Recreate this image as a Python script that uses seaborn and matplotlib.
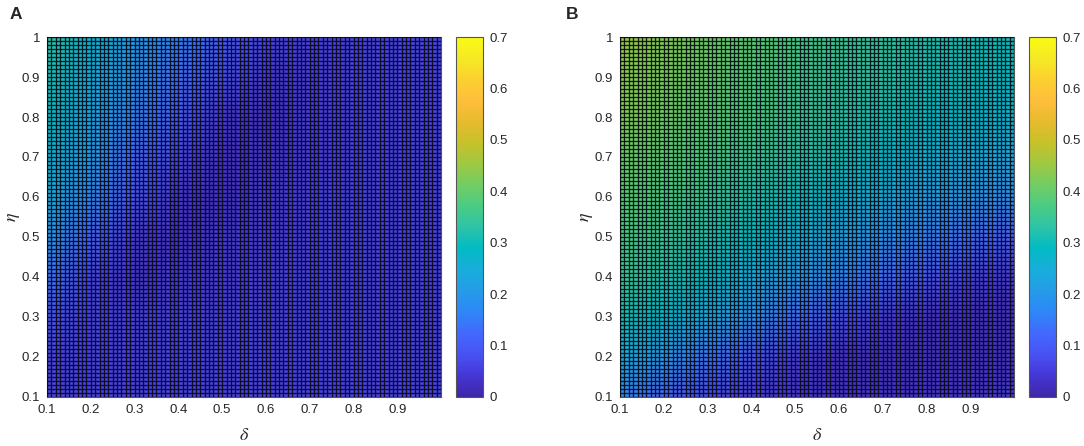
import numpy as np
import matplotlib
matplotlib.use('Agg')
import matplotlib.pyplot as plt
import matplotlib.ticker as ticker
import seaborn as sns

# grid of the two parameters
delta = [0.1, 0.2, 0.3, 0.4, 0.5, 0.6, 0.7, 0.8, 0.9, 1.0]
eta = [0.1, 0.2, 0.3, 0.4, 0.5, 0.6, 0.7, 0.8, 0.9, 1.0]

# panel A, rows go from eta=0.1 (bottom) to eta=1.0 (top)
values_a = [
    [0.06, 0.06, 0.06, 0.06, 0.06, 0.06, 0.06, 0.06, 0.06, 0.06],
    [0.065, 0.06, 0.06, 0.06, 0.06, 0.06, 0.06, 0.06, 0.06, 0.06],
    [0.085, 0.06, 0.055, 0.055, 0.055, 0.055, 0.055, 0.055, 0.055, 0.055],
    [0.14, 0.065, 0.04, 0.045, 0.05, 0.055, 0.055, 0.055, 0.055, 0.055],
    [0.20, 0.11, 0.05, 0.035, 0.045, 0.05, 0.055, 0.055, 0.055, 0.055],
    [0.25, 0.17, 0.085, 0.04, 0.035, 0.045, 0.055, 0.055, 0.055, 0.055],
    [0.27, 0.21, 0.12, 0.065, 0.035, 0.04, 0.05, 0.055, 0.055, 0.055],
    [0.29, 0.23, 0.16, 0.095, 0.045, 0.035, 0.05, 0.055, 0.06, 0.06],
    [0.31, 0.25, 0.19, 0.13, 0.075, 0.045, 0.05, 0.06, 0.06, 0.06],
    [0.33, 0.27, 0.21, 0.16, 0.10, 0.065, 0.055, 0.06, 0.065, 0.065],
]

# panel B, same layout
values_b = [
    [0.17, 0.11, 0.07, 0.05, 0.04, 0.035, 0.035, 0.04, 0.04, 0.045],
    [0.25, 0.20, 0.14, 0.09, 0.05, 0.035, 0.03, 0.03, 0.03, 0.035],
    [0.31, 0.28, 0.24, 0.19, 0.13, 0.08, 0.05, 0.035, 0.03, 0.03],
    [0.35, 0.32, 0.29, 0.25, 0.21, 0.17, 0.13, 0.09, 0.06, 0.045],
    [0.37, 0.35, 0.32, 0.29, 0.26, 0.23, 0.19, 0.16, 0.13, 0.10],
    [0.39, 0.37, 0.35, 0.32, 0.30, 0.27, 0.25, 0.22, 0.20, 0.18],
    [0.41, 0.39, 0.37, 0.35, 0.33, 0.31, 0.28, 0.26, 0.25, 0.24],
    [0.43, 0.41, 0.39, 0.37, 0.35, 0.33, 0.31, 0.29, 0.28, 0.27],
    [0.44, 0.42, 0.40, 0.38, 0.36, 0.34, 0.33, 0.31, 0.30, 0.29],
    [0.45, 0.43, 0.41, 0.39, 0.37, 0.35, 0.34, 0.32, 0.31, 0.30],
]

panel_labels = ['A', 'B']
cbar_ticks = [0, 0.1, 0.2, 0.3, 0.4, 0.5, 0.6, 0.7]
x_ticks = [0.1, 0.2, 0.3, 0.4, 0.5, 0.6, 0.7, 0.8, 0.9]
y_ticks = [0.1, 0.2, 0.3, 0.4, 0.5, 0.6, 0.7, 0.8, 0.9, 1.0]

# parula-like colours
parula = [
    (0.2422, 0.1504, 0.6603), (0.2706, 0.2147, 0.8364), (0.2810, 0.3228, 0.9579),
    (0.2602, 0.4123, 0.9952), (0.1786, 0.5289, 0.9682), (0.1460, 0.6091, 0.9079),
    (0.0952, 0.6798, 0.8598), (0.0067, 0.7312, 0.7660), (0.1717, 0.7670, 0.6554),
    (0.2906, 0.7973, 0.5188), (0.4456, 0.8024, 0.3909), (0.6174, 0.7876, 0.2612),
    (0.7738, 0.7598, 0.1646), (0.9035, 0.7330, 0.1774), (0.9956, 0.7434, 0.2371),
    (0.9892, 0.8136, 0.1885), (0.9597, 0.9135, 0.1423), (0.9769, 0.9839, 0.0805),
]

sns.set_style('white')
plt.rcParams['font.family'] = ['Liberation Sans', 'DejaVu Sans']
plt.rcParams['mathtext.fontset'] = 'stix'
cmap = sns.blend_palette(parula, n_colors=256, as_cmap=True)

fig = plt.figure(figsize=(10.84, 4.46), dpi=100)
ax_pos = [[0.0434, 0.110, 0.3635, 0.807], [0.572, 0.110, 0.3635, 0.807]]
cb_pos = [[0.4207, 0.110, 0.0249, 0.807], [0.9493, 0.110, 0.0249, 0.807]]
letter_x = [0.009, 0.522]
fmt = ticker.FuncFormatter(lambda v, p: '%g' % round(v, 2))

for i, vals in enumerate([values_a, values_b]):
    ax = fig.add_axes(ax_pos[i])
    X, Y = np.meshgrid(delta, eta)
    mesh = ax.pcolormesh(X, Y, np.array(vals), cmap=cmap, vmin=0, vmax=0.7,
                         shading='gouraud', rasterized=True)
    ax.set_xlim(0.1, 1.0)
    ax.set_ylim(0.1, 1.0)
    ax.set_xticks(x_ticks)
    ax.set_yticks(y_ticks)
    ax.xaxis.set_major_formatter(fmt)
    ax.yaxis.set_major_formatter(fmt)
    # cell edges, one every 0.01
    ax.xaxis.set_minor_locator(ticker.MultipleLocator(0.01))
    ax.yaxis.set_minor_locator(ticker.MultipleLocator(0.01))
    ax.set_axisbelow(False)
    ax.grid(which='both', color='#0a0a14', linewidth=0.95, alpha=0.9)
    ax.tick_params(which='minor', length=0)
    ax.tick_params(which='major', direction='in', length=0, labelsize=9.5, colors='#262626', pad=5)
    for s in ax.spines.values():
        s.set_color('#555555')
        s.set_linewidth(0.8)
    ax.set_xlabel(r'$\delta$', fontsize=13, color='#262626', labelpad=8)
    ax.set_ylabel(r'$\eta$', fontsize=13, color='#262626')
    ax.yaxis.set_label_coords(-0.064, 0.5)
    fig.text(letter_x[i], 0.968, panel_labels[i], fontsize=12.5,
             fontweight='bold', ha='left', va='center')

    cax = fig.add_axes(cb_pos[i])
    cb = fig.colorbar(mesh, cax=cax, ticks=cbar_ticks, format=fmt)
    cb.outline.set_edgecolor('#555555')
    cb.outline.set_linewidth(0.8)
    cax.tick_params(direction='in', length=3, width=0.6, labelsize=9.5, colors='#262626', pad=5)

fig.savefig('out.png', dpi=100)
